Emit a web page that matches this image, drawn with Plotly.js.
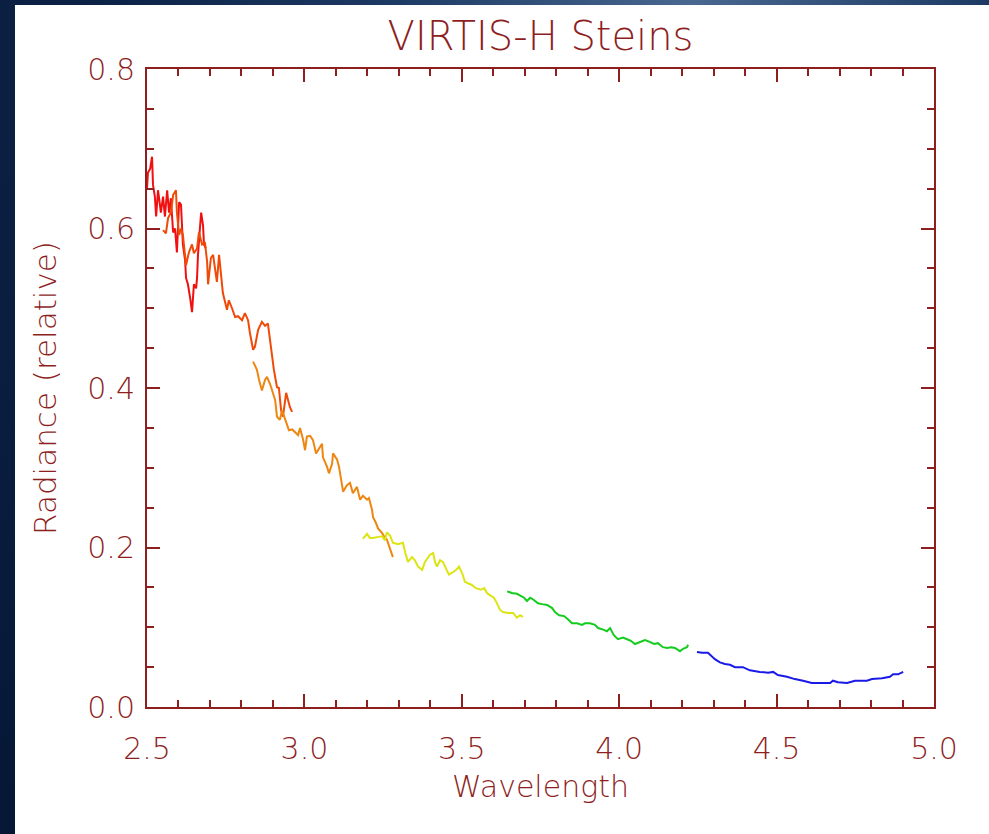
<!DOCTYPE html>
<html>
<head>
<meta charset="utf-8">
<script src="https://cdn.plot.ly/plotly-3.0.1.min.js"></script>
<style>
  html, body { margin: 0; padding: 0; }
  body {
    width: 989px; height: 834px; overflow: hidden; position: relative;
    background: radial-gradient(ellipse at 70% 0%, #4a6790 0%, #1d3a64 30%, #0c2246 60%, #061735 100%);
  }
  #chart { position: absolute; left: 15px; top: 5px; width: 974px; height: 829px; }
</style>
</head>
<body>
<div id="chart"></div>
<script>
// Segment 1 (red)
const wl1 = [2.500,2.503,2.510,2.516,2.519,2.525,2.529,2.535,2.541,2.544,2.551,2.557,2.564,2.570,2.576,2.583,2.589,2.595,2.602,2.608,2.614,2.621,2.624,2.630,2.637,2.643,2.649,2.656,2.659,2.662,2.668,2.672,2.678,2.681,2.687];
const rad1 = [0.650,0.670,0.675,0.690,0.655,0.640,0.615,0.648,0.630,0.620,0.640,0.615,0.648,0.620,0.638,0.595,0.600,0.570,0.633,0.630,0.580,0.560,0.538,0.530,0.513,0.495,0.530,0.525,0.538,0.567,0.600,0.620,0.604,0.580,0.575];
// Segment 2 (orange-red)
const wl2 = [2.551,2.560,2.567,2.576,2.583,2.592,2.595,2.602,2.608,2.614,2.624,2.633,2.643,2.649,2.659,2.665,2.675,2.684,2.691,2.694,2.703,2.710,2.716,2.722,2.729,2.735,2.741,2.754,2.760,2.770,2.780,2.789,2.802,2.811,2.821,2.827,2.837,2.843,2.853,2.865,2.875,2.884,2.891,2.897,2.903,2.913,2.919,2.926,2.932,2.942,2.948,2.954,2.961];
const rad2 = [0.598,0.594,0.613,0.620,0.642,0.648,0.620,0.592,0.600,0.592,0.554,0.570,0.580,0.569,0.575,0.595,0.580,0.583,0.558,0.530,0.563,0.567,0.550,0.533,0.567,0.545,0.519,0.498,0.510,0.500,0.489,0.490,0.485,0.494,0.485,0.469,0.448,0.452,0.473,0.483,0.478,0.481,0.460,0.435,0.423,0.401,0.400,0.372,0.364,0.394,0.385,0.376,0.370];
// Segment 3 (orange)
const wl3 = [2.837,2.849,2.856,2.865,2.875,2.881,2.891,2.900,2.907,2.913,2.922,2.929,2.935,2.945,2.951,2.961,2.970,2.980,2.986,2.996,3.002,3.008,3.018,3.027,3.037,3.050,3.056,3.059,3.072,3.078,3.088,3.091,3.104,3.110,3.119,3.123,3.135,3.145,3.154,3.167,3.177,3.186,3.199,3.205,3.215,3.218,3.227,3.234,3.247,3.256,3.262,3.272,3.281];
const rad3 = [0.433,0.423,0.410,0.397,0.410,0.414,0.405,0.394,0.385,0.364,0.360,0.372,0.365,0.356,0.347,0.348,0.345,0.341,0.350,0.335,0.322,0.339,0.340,0.335,0.318,0.326,0.330,0.313,0.301,0.293,0.305,0.318,0.310,0.301,0.276,0.270,0.278,0.281,0.268,0.276,0.260,0.265,0.260,0.262,0.247,0.238,0.231,0.224,0.218,0.212,0.210,0.197,0.188];
// Segment 4 (yellow)
const wl4 = [3.186,3.199,3.208,3.218,3.231,3.247,3.256,3.262,3.272,3.281,3.297,3.313,3.320,3.329,3.342,3.351,3.361,3.374,3.383,3.399,3.409,3.415,3.421,3.431,3.440,3.453,3.459,3.472,3.482,3.491,3.501,3.510,3.520,3.532,3.545,3.561,3.571,3.580,3.590,3.602,3.612,3.621,3.631,3.647,3.663,3.675,3.685,3.694];
const rad4 = [0.211,0.217,0.212,0.212,0.213,0.214,0.209,0.219,0.215,0.206,0.204,0.206,0.194,0.182,0.188,0.184,0.176,0.172,0.182,0.191,0.193,0.182,0.176,0.184,0.182,0.172,0.166,0.169,0.172,0.176,0.168,0.157,0.155,0.153,0.149,0.147,0.149,0.143,0.140,0.137,0.130,0.122,0.119,0.118,0.118,0.112,0.115,0.113];
// Segment 5 (green)
const wl5 = [3.644,3.659,3.675,3.685,3.698,3.707,3.717,3.726,3.742,3.755,3.771,3.787,3.796,3.809,3.825,3.837,3.850,3.866,3.882,3.891,3.907,3.923,3.933,3.949,3.961,3.971,3.983,3.996,4.012,4.025,4.037,4.050,4.066,4.082,4.095,4.111,4.123,4.139,4.152,4.165,4.177,4.193,4.203,4.215,4.219];
const rad5 = [0.145,0.143,0.142,0.140,0.137,0.133,0.137,0.135,0.130,0.129,0.128,0.124,0.119,0.115,0.114,0.110,0.105,0.105,0.103,0.105,0.105,0.103,0.099,0.097,0.095,0.099,0.090,0.085,0.087,0.085,0.083,0.079,0.082,0.084,0.082,0.079,0.080,0.075,0.074,0.075,0.074,0.070,0.073,0.075,0.078];
// Segment 6 (blue)
const wl6 = [4.247,4.263,4.282,4.295,4.304,4.320,4.336,4.352,4.368,4.393,4.415,4.447,4.473,4.489,4.504,4.533,4.558,4.584,4.612,4.644,4.670,4.679,4.695,4.724,4.749,4.787,4.803,4.835,4.860,4.870,4.886,4.902];
const rad6 = [0.069,0.068,0.068,0.063,0.060,0.056,0.054,0.053,0.050,0.050,0.046,0.044,0.043,0.044,0.040,0.038,0.035,0.033,0.030,0.030,0.030,0.033,0.031,0.030,0.033,0.033,0.035,0.036,0.038,0.041,0.041,0.044];

const xTickVals = [2.5, 3.0, 3.5, 4.0, 4.5, 5.0];
const xTickText = ['2.5', '3.0', '3.5', '4.0', '4.5', '5.0'];
const yTickVals = [0.0, 0.2, 0.4, 0.6, 0.8];
const yTickText = ['0.0', '0.2', '0.4', '0.6', '0.8'];

const segments = [
  [wl1, rad1, '#f01010'],
  [wl2, rad2, '#f04a08'],
  [wl3, rad3, '#ee8612'],
  [wl4, rad4, '#dce412'],
  [wl5, rad5, '#14cc1e'],
  [wl6, rad6, '#1a1ae6']
];

const traces = segments.map(s => ({
  x: s[0], y: s[1], type: 'scatter', mode: 'lines',
  line: { color: s[2], width: 2 }, hoverinfo: 'skip', showlegend: false
}));

const axisColor = '#8e1f1f';
const fontFam = '"DejaVu Sans", sans-serif';

const layout = {
  width: 974, height: 829,
  margin: { l: 132, r: 55, t: 64, b: 127 },
  paper_bgcolor: '#ffffff', plot_bgcolor: '#ffffff',
  font: { family: fontFam, color: axisColor },
  title: {
    text: 'VIRTIS-H Steins',
    font: { family: fontFam, size: 40, color: axisColor, weight: 200 },
    x: 0.5, xref: 'paper', xanchor: 'center',
    y: 1 - 31 / 829, yref: 'container', yanchor: 'middle'
  },
  xaxis: {
    range: [2.5, 5.0], showgrid: false, zeroline: false,
    showline: true, linecolor: axisColor, linewidth: 2, mirror: 'ticks',
    ticks: 'inside', ticklen: 13, tickwidth: 2, tickcolor: axisColor,
    tickmode: 'array', tickvals: xTickVals, ticktext: xTickText,
    tickfont: { family: fontFam, size: 30, color: axisColor, weight: 200 },
    ticklabelstandoff: 14,
    minor: { dtick: 0.1, ticklen: 7, tickwidth: 2, tickcolor: axisColor, ticks: 'inside', showgrid: false },
    title: { text: 'Wavelength', font: { family: fontFam, size: 30, color: axisColor, weight: 200 }, standoff: 11 },
    automargin: false
  },
  yaxis: {
    range: [0.0, 0.8], showgrid: false, zeroline: false,
    showline: true, linecolor: axisColor, linewidth: 2, mirror: 'ticks',
    ticks: 'inside', ticklen: 13, tickwidth: 2, tickcolor: axisColor,
    tickmode: 'array', tickvals: yTickVals, ticktext: yTickText,
    tickfont: { family: fontFam, size: 30, color: axisColor, weight: 200 },
    ticklabelstandoff: 4,
    minor: { dtick: 0.05, ticklen: 7, tickwidth: 2, tickcolor: axisColor, ticks: 'inside', showgrid: false },
    title: { text: 'Radiance (relative)', font: { family: fontFam, size: 31, color: axisColor, weight: 200 }, standoff: 21 },
    automargin: false
  }
};

Plotly.newPlot('chart', traces, layout, { displayModeBar: false, staticPlot: true });
</script>
</body>
</html>
